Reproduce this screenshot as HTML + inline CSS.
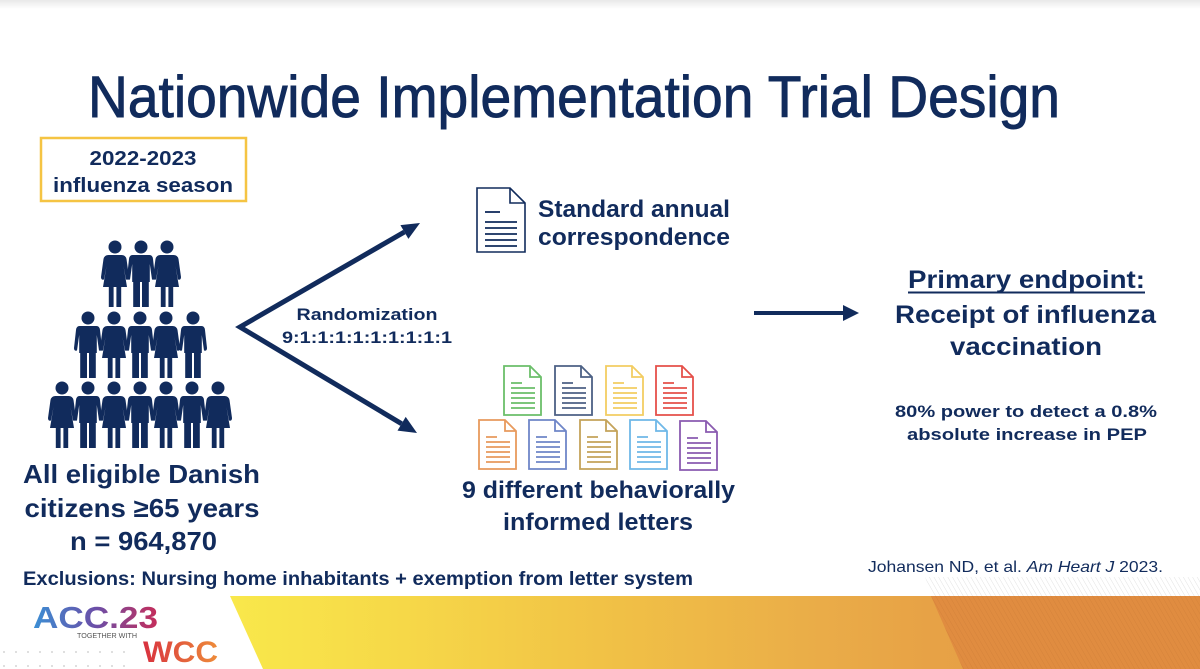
<!DOCTYPE html>
<html><head><meta charset="utf-8"><style>
html,body{margin:0;padding:0;background:#fff;}
svg{display:block;}
</style></head><body>
<svg width="1200" height="669" viewBox="0 0 1200 669" xmlns="http://www.w3.org/2000/svg" font-family="'Liberation Sans', Arial, sans-serif">
<defs>
<linearGradient id="topg" x1="0" y1="0" x2="0" y2="1"><stop offset="0" stop-color="#e9e9e9"/><stop offset="1" stop-color="#ffffff"/></linearGradient>
<linearGradient id="band" gradientUnits="userSpaceOnUse" x1="230" y1="0" x2="1200" y2="0">
<stop offset="0" stop-color="#f9e84b"/><stop offset="0.18" stop-color="#f6d848"/><stop offset="0.38" stop-color="#f1c246"/><stop offset="0.6" stop-color="#eaad48"/><stop offset="0.72" stop-color="#e7a246"/><stop offset="1" stop-color="#e39a44"/></linearGradient>
<linearGradient id="accg" gradientUnits="userSpaceOnUse" x1="33" y1="0" x2="158" y2="0"><stop offset="0" stop-color="#3b8fd4"/><stop offset="0.5" stop-color="#6b4fa8"/><stop offset="1" stop-color="#c52d5a"/></linearGradient>
<linearGradient id="wccg" gradientUnits="userSpaceOnUse" x1="143" y1="0" x2="218" y2="0"><stop offset="0" stop-color="#d8313f"/><stop offset="1" stop-color="#ee8c3a"/></linearGradient>
<pattern id="hatch" width="4" height="4" patternUnits="userSpaceOnUse" patternTransform="rotate(-30)"><line x1="0" y1="0" x2="0" y2="4" stroke="#c97a35" stroke-width="1"/></pattern>
<pattern id="hatchw" width="4" height="4" patternUnits="userSpaceOnUse" patternTransform="rotate(-30)"><line x1="0" y1="0" x2="0" y2="4" stroke="#e2e2e2" stroke-width="1"/></pattern>
<g id="m" fill="#112b5c">
<circle cx="0" cy="7" r="6.5"/>
<path d="M-8.5,15 H8.5 Q11.5,15 12,19 L14,37 Q14,40.5 11,39.5 L8.8,24 V42 H-8.8 V24 L-11,39.5 Q-14,40.5 -14,37 L-12,19 Q-11.5,15 -8.5,15 Z"/>
<rect x="-7.8" y="41" width="6.8" height="26"/><rect x="1" y="41" width="6.8" height="26"/>
</g>
<g id="f" fill="#112b5c">
<circle cx="0" cy="7" r="6.5"/>
<path d="M-6.5,15 H6.5 Q10.5,15 11.5,19 L14,37 Q14,40.5 11,39.5 L8.5,26 L12,47 H-12 L-8.5,26 L-11,39.5 Q-14,40.5 -14,37 L-11.5,19 Q-10.5,15 -6.5,15 Z"/>
<rect x="-6.2" y="46" width="4.8" height="21"/><rect x="1.4" y="46" width="4.8" height="21"/>
</g>
</defs>

<rect x="0" y="0" width="1200" height="669" fill="#fff"/>
<rect x="0" y="0" width="1200" height="9" fill="url(#topg)"/>

<!-- Title -->
<text x="88" y="117" font-size="58" fill="#112b5c" stroke="#112b5c" stroke-width="0.9" textLength="972" lengthAdjust="spacingAndGlyphs">Nationwide Implementation Trial Design</text>

<!-- Season box -->
<rect x="41" y="138" width="205" height="63" fill="none" stroke="#f5c443" stroke-width="2.5"/>
<text x="143" y="165" font-size="20" font-weight="bold" fill="#112b5c" text-anchor="middle" textLength="107" lengthAdjust="spacingAndGlyphs">2022-2023</text>
<text x="143" y="192" font-size="20" font-weight="bold" fill="#112b5c" text-anchor="middle" textLength="180" lengthAdjust="spacingAndGlyphs">influenza season</text>

<!-- People -->
<use href="#f" x="115" y="240"/><use href="#m" x="141" y="240"/><use href="#f" x="167" y="240"/>
<use href="#m" x="88" y="311"/><use href="#f" x="114" y="311"/><use href="#m" x="140" y="311"/><use href="#f" x="166" y="311"/><use href="#m" x="193" y="311"/>
<use href="#f" x="62" y="381"/><use href="#m" x="88" y="381"/><use href="#f" x="114" y="381"/><use href="#m" x="140" y="381"/><use href="#f" x="166" y="381"/><use href="#m" x="192" y="381"/><use href="#f" x="218" y="381"/>

<!-- Left text -->
<g font-weight="bold" fill="#112b5c" text-anchor="middle" font-size="26">
<text x="141.5" y="483" textLength="237" lengthAdjust="spacingAndGlyphs">All eligible Danish</text>
<text x="142" y="517" textLength="235" lengthAdjust="spacingAndGlyphs">citizens ≥65 years</text>
<text x="143.5" y="550" textLength="147" lengthAdjust="spacingAndGlyphs">n = 964,870</text>
</g>
<text x="23" y="585" font-size="19" font-weight="bold" fill="#112b5c" textLength="670" lengthAdjust="spacingAndGlyphs">Exclusions: Nursing home inhabitants + exemption from letter system</text>

<!-- Randomization arrows -->
<polyline points="404.4,232 240,327 401.6,423.75" fill="none" stroke="#112b5c" stroke-width="5" stroke-linejoin="miter"/>
<polygon points="420,223 408.4,238.9 400.4,225.1" fill="#112b5c"/>
<polygon points="417,433 397.5,430.6 405.7,416.9" fill="#112b5c"/>
<text x="367" y="320" font-size="17" font-weight="bold" fill="#112b5c" text-anchor="middle" textLength="141" lengthAdjust="spacingAndGlyphs">Randomization</text>
<text x="367" y="343" font-size="17" font-weight="bold" fill="#112b5c" text-anchor="middle" textLength="170" lengthAdjust="spacingAndGlyphs">9:1:1:1:1:1:1:1:1:1</text>

<!-- Standard doc -->
<g fill="none" stroke="#112b5c" stroke-width="1.6">
<path d="M477,188 H510 L525,203 V252 H477 Z"/>
<path d="M510,188 V203 H525"/>
</g>
<g stroke="#112b5c" stroke-width="1.8">
<line x1="485" y1="212" x2="500" y2="212"/>
<line x1="485" y1="222" x2="517" y2="222"/>
<line x1="485" y1="228" x2="517" y2="228"/>
<line x1="485" y1="234" x2="517" y2="234"/>
<line x1="485" y1="240" x2="517" y2="240"/>
<line x1="485" y1="246" x2="517" y2="246"/>
</g>
<text x="538" y="217" font-size="24" font-weight="bold" fill="#112b5c" textLength="192" lengthAdjust="spacingAndGlyphs">Standard annual</text>
<text x="538" y="245" font-size="24" font-weight="bold" fill="#112b5c" textLength="192" lengthAdjust="spacingAndGlyphs">correspondence</text>

<!-- Colored docs -->
<g fill="none" stroke-width="1.8">
<g stroke="#6bbf6a" transform="translate(504,366)"><path d="M0,0 H26 L37,11 V49 H0 Z M26,0 V11 H37"/><path d="M7,17 H18 M7,22 H31 M7,27 H31 M7,32 H31 M7,37 H31 M7,42 H31"/></g>
<g stroke="#4d6185" transform="translate(555,366)"><path d="M0,0 H26 L37,11 V49 H0 Z M26,0 V11 H37"/><path d="M7,17 H18 M7,22 H31 M7,27 H31 M7,32 H31 M7,37 H31 M7,42 H31"/></g>
<g stroke="#f3cd62" transform="translate(606,366)"><path d="M0,0 H26 L37,11 V49 H0 Z M26,0 V11 H37"/><path d="M7,17 H18 M7,22 H31 M7,27 H31 M7,32 H31 M7,37 H31 M7,42 H31"/></g>
<g stroke="#e5504a" transform="translate(656,366)"><path d="M0,0 H26 L37,11 V49 H0 Z M26,0 V11 H37"/><path d="M7,17 H18 M7,22 H31 M7,27 H31 M7,32 H31 M7,37 H31 M7,42 H31"/></g>
<g stroke="#e89a5d" transform="translate(479,420)"><path d="M0,0 H26 L37,11 V49 H0 Z M26,0 V11 H37"/><path d="M7,17 H18 M7,22 H31 M7,27 H31 M7,32 H31 M7,37 H31 M7,42 H31"/></g>
<g stroke="#6f86c8" transform="translate(529,420)"><path d="M0,0 H26 L37,11 V49 H0 Z M26,0 V11 H37"/><path d="M7,17 H18 M7,22 H31 M7,27 H31 M7,32 H31 M7,37 H31 M7,42 H31"/></g>
<g stroke="#c4a35a" transform="translate(580,420)"><path d="M0,0 H26 L37,11 V49 H0 Z M26,0 V11 H37"/><path d="M7,17 H18 M7,22 H31 M7,27 H31 M7,32 H31 M7,37 H31 M7,42 H31"/></g>
<g stroke="#6fb8e8" transform="translate(630,420)"><path d="M0,0 H26 L37,11 V49 H0 Z M26,0 V11 H37"/><path d="M7,17 H18 M7,22 H31 M7,27 H31 M7,32 H31 M7,37 H31 M7,42 H31"/></g>
<g stroke="#8a5bb0" transform="translate(680,421)"><path d="M0,0 H26 L37,11 V49 H0 Z M26,0 V11 H37"/><path d="M7,17 H18 M7,22 H31 M7,27 H31 M7,32 H31 M7,37 H31 M7,42 H31"/></g>
</g>
<text x="598.5" y="498" font-size="24" font-weight="bold" fill="#112b5c" text-anchor="middle" textLength="273" lengthAdjust="spacingAndGlyphs">9 different behaviorally</text>
<text x="598" y="530" font-size="24" font-weight="bold" fill="#112b5c" text-anchor="middle" textLength="190" lengthAdjust="spacingAndGlyphs">informed letters</text>

<!-- Right arrow -->
<line x1="754" y1="313" x2="845" y2="313" stroke="#112b5c" stroke-width="4"/>
<polygon points="843,305 859,313 843,321" fill="#112b5c"/>

<!-- Primary endpoint -->
<g font-weight="bold" fill="#112b5c" text-anchor="middle" font-size="25">
<text x="1026.5" y="288" textLength="237" lengthAdjust="spacingAndGlyphs">Primary endpoint:</text>
<text x="1025.5" y="323" textLength="261" lengthAdjust="spacingAndGlyphs">Receipt of influenza</text>
<text x="1026" y="355" textLength="152" lengthAdjust="spacingAndGlyphs">vaccination</text>
</g>
<line x1="908" y1="292.5" x2="1145" y2="292.5" stroke="#112b5c" stroke-width="2"/>
<text x="1026" y="417" font-size="17" font-weight="bold" fill="#112b5c" text-anchor="middle" textLength="262" lengthAdjust="spacingAndGlyphs">80% power to detect a 0.8%</text>
<text x="1027" y="440" font-size="17" font-weight="bold" fill="#112b5c" text-anchor="middle" textLength="240" lengthAdjust="spacingAndGlyphs">absolute increase in PEP</text>

<!-- Reference -->
<polygon points="925,577 1200,577 1200,596 932,596" fill="url(#hatchw)"/>
<text x="868" y="572" font-size="16" fill="#112b5c" textLength="295" lengthAdjust="spacingAndGlyphs">Johansen ND, et al. <tspan font-style="italic">Am Heart J</tspan> 2023.</text>

<!-- Bottom band -->
<polygon points="230,596 1200,596 1200,669 263,669" fill="url(#band)"/>
<polygon points="931,596 1200,596 1200,669 963,669" fill="#e08c40"/>
<polygon points="931,596 1200,596 1200,669 963,669" fill="url(#hatch)" opacity="0.5"/>

<!-- Logo -->
<text x="33" y="628" font-size="31" font-weight="bold" fill="url(#accg)" textLength="125" lengthAdjust="spacingAndGlyphs">ACC.23</text>
<text x="77" y="638" font-size="7" fill="#555" textLength="60" lengthAdjust="spacingAndGlyphs">TOGETHER WITH</text>
<text x="143" y="662" font-size="30" font-weight="bold" fill="url(#wccg)" textLength="75" lengthAdjust="spacingAndGlyphs">WCC</text>
<g fill="#c8c8c8">
<circle cx="4" cy="652" r="0.9"/><circle cx="16" cy="652" r="0.9"/><circle cx="28" cy="652" r="0.9"/><circle cx="40" cy="652" r="0.9"/><circle cx="52" cy="652" r="0.9"/><circle cx="64" cy="652" r="0.9"/><circle cx="76" cy="652" r="0.9"/><circle cx="88" cy="652" r="0.9"/><circle cx="100" cy="652" r="0.9"/><circle cx="112" cy="652" r="0.9"/><circle cx="124" cy="652" r="0.9"/>
<circle cx="4" cy="666" r="0.9"/><circle cx="16" cy="666" r="0.9"/><circle cx="28" cy="666" r="0.9"/><circle cx="40" cy="666" r="0.9"/><circle cx="52" cy="666" r="0.9"/><circle cx="64" cy="666" r="0.9"/><circle cx="76" cy="666" r="0.9"/><circle cx="88" cy="666" r="0.9"/><circle cx="100" cy="666" r="0.9"/><circle cx="112" cy="666" r="0.9"/><circle cx="124" cy="666" r="0.9"/>
</g>
</svg>
</body></html>
